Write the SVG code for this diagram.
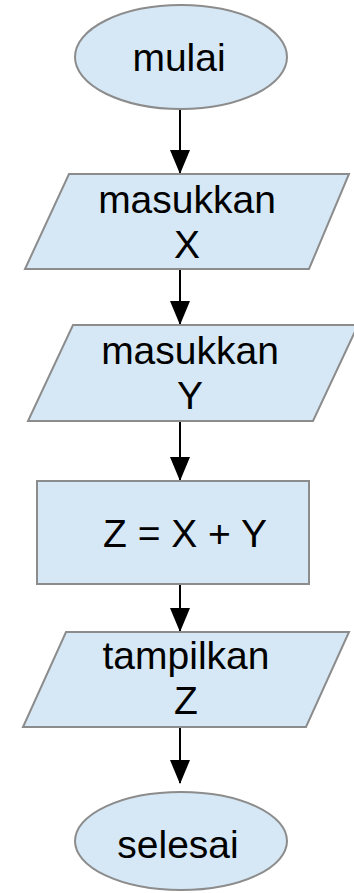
<svg xmlns="http://www.w3.org/2000/svg" width="354" height="893" viewBox="0 0 354 893">
<defs>
<style>
.shape{fill:#d6e8f5;stroke:#8c8c8c;stroke-width:2}
.lbl{font-family:"Liberation Sans",Arial,sans-serif;font-size:39px;fill:#000;text-anchor:middle}
.edge{stroke:#000;stroke-width:2;fill:none}
</style>
<marker id="ah" markerWidth="24" markerHeight="20" refX="23" refY="10" orient="auto" markerUnits="userSpaceOnUse" viewBox="0 0 24 20">
<path d="M0,0 L24,10 L0,20 Z" fill="#000"/>
</marker>
</defs>
<g id="connectors">
<line class="edge" x1="180" y1="110" x2="180" y2="173" marker-end="url(#ah)"/>
<line class="edge" x1="180" y1="269" x2="180" y2="324" marker-end="url(#ah)"/>
<line class="edge" x1="180" y1="421" x2="180" y2="480" marker-end="url(#ah)"/>
<line class="edge" x1="180" y1="584" x2="180" y2="631" marker-end="url(#ah)"/>
<line class="edge" x1="180" y1="727" x2="180" y2="783" marker-end="url(#ah)"/>
</g>
<g id="mulai">
<ellipse class="shape" cx="181" cy="57" rx="106" ry="52"/>
<text class="lbl" x="179" y="71">mulai</text>
</g>
<g id="masukkan-x">
<polygon class="shape" points="69,174 349,174 309,269 25,269"/>
<text class="lbl" x="187" y="213">masukkan</text>
<text class="lbl" x="187" y="258">X</text>
</g>
<g id="masukkan-y">
<polygon class="shape" points="73,325 358,325 313,421 28,421"/>
<text class="lbl" x="190" y="364">masukkan</text>
<text class="lbl" x="190" y="409">Y</text>
</g>
<g id="proses">
<rect class="shape" x="37" y="481" width="272" height="103"/>
<text class="lbl" x="185" y="547">Z = X + Y</text>
</g>
<g id="tampilkan-z">
<polygon class="shape" points="66,632 349,632 306,727 23,727"/>
<text class="lbl" x="186" y="669">tampilkan</text>
<text class="lbl" x="186" y="714">Z</text>
</g>
<g id="selesai">
<ellipse class="shape" cx="181" cy="841" rx="106" ry="49"/>
<text class="lbl" x="178" y="858">selesai</text>
</g>
</svg>
